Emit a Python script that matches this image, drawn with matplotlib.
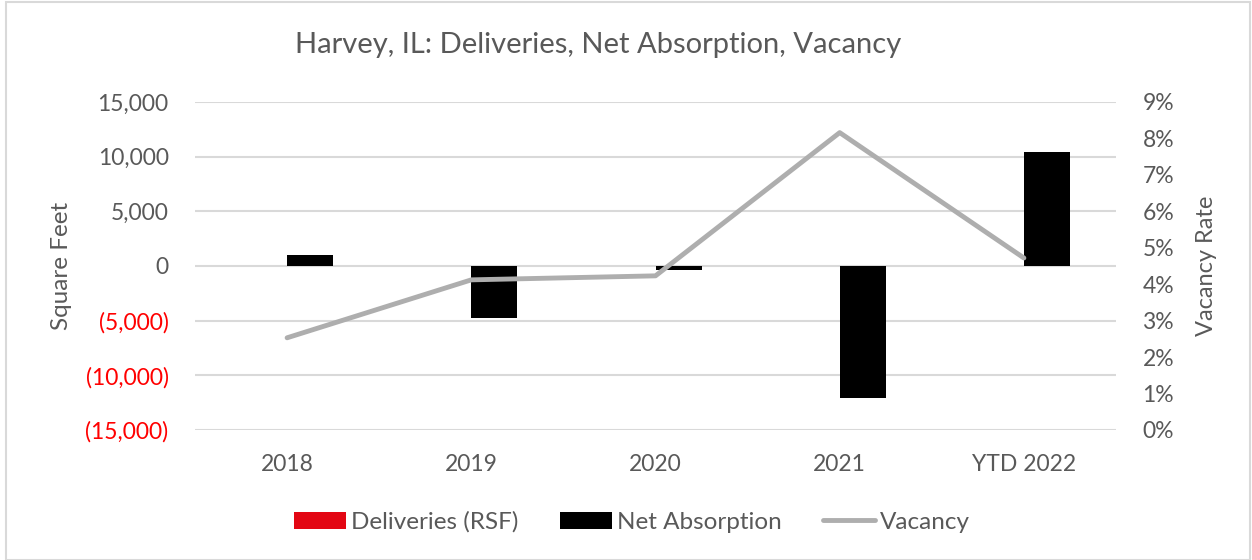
import numpy as np
import matplotlib.pyplot as plt
from matplotlib.ticker import FuncFormatter, MultipleLocator
from matplotlib.patches import Rectangle

years = ["2018", "2019", "2020", "2021", "YTD 2022"]
deliveries = [0, 0, 0, 0, 0]
net_absorption = [1000, -4750, -350, -12050, 10400]
vacancy = [0.0253, 0.0412, 0.0423, 0.0816, 0.0472]

plt.rcParams['font.family'] = ['Lato', 'DejaVu Sans']
txt = '#595959'

fig = plt.figure(figsize=(12.52, 5.6), dpi=100)
ax = fig.add_axes([195 / 1252, 1 - 430 / 560, (1116 - 195) / 1252, (430 - 102) / 560])
ax2 = ax.twinx()

x = np.arange(len(years))
w = 0.25
ax.bar(x - w / 2, deliveries, w, color='#e30613', label='Deliveries (RSF)', zorder=3)
ax.bar(x + w / 2, net_absorption, w, color='black', label='Net Absorption', zorder=3)
ax2.plot(x, vacancy, color='#aeaeae', lw=3.5, label='Vacancy', solid_capstyle='round')

ax.set_xlim(-0.5, len(years) - 0.5)
ax.set_ylim(-15000, 15000)
ax.yaxis.set_major_locator(MultipleLocator(5000))
ax2.set_ylim(0, 0.09)
ax2.yaxis.set_major_locator(MultipleLocator(0.01))

def sqft(v, pos):
    if v < 0:
        return '({:,.0f})'.format(-v)
    return '{:,.0f}'.format(v)

ax.yaxis.set_major_formatter(FuncFormatter(sqft))
ax2.yaxis.set_major_formatter(FuncFormatter(lambda v, p: '{:.0f}%'.format(v * 100)))

ax.set_xticks(x)
ax.set_xticklabels(years)
ax.grid(axis='y', color='#d9d9d9', lw=1.5, zorder=0)
for a in (ax, ax2):
    for s in a.spines.values():
        s.set_visible(False)
    a.tick_params(length=0, labelsize=16.5, labelcolor=txt)
ax.tick_params(axis='y', pad=19)
ax.tick_params(axis='x', pad=17)
ax2.tick_params(axis='y', pad=19)
for lbl, v in zip(ax.get_yticklabels(), ax.get_yticks()):
    if v < 0:
        lbl.set_color('#ff0000')

ax.set_ylabel('Square Feet', fontsize=17.5, color=txt, labelpad=10)
ax2.set_ylabel('Vacancy Rate', fontsize=17, color=txt, labelpad=16)
fig.text(0.478, 1 - 45 / 560, 'Harvey, IL: Deliveries, Net Absorption, Vacancy',
         ha='center', va='center', fontsize=21, color=txt)

h1, l1 = ax.get_legend_handles_labels()
h2, l2 = ax2.get_legend_handles_labels()
fig.legend(h1 + h2, l1 + l2, loc='center', bbox_to_anchor=(0.505, 1 - 522 / 560),
           ncol=3, frameon=False, fontsize=17.5, labelcolor=txt,
           handlelength=2.15, handletextpad=0.2, columnspacing=1.7)

fig.patches.append(Rectangle((6 / 1252, 0), 1244 / 1252, 1 - 2 / 560, transform=fig.transFigure,
                             fill=False, edgecolor='#d9d9d9', lw=1.5))
fig.savefig('out.png')
